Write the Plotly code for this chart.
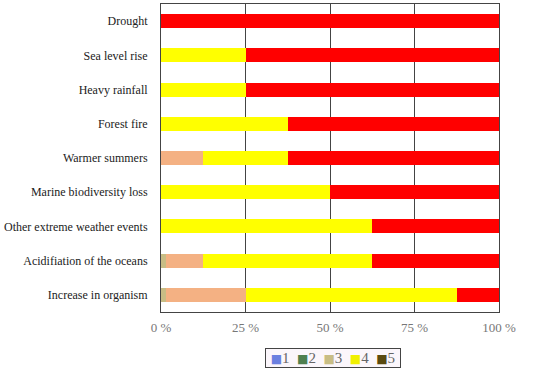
import plotly.graph_objects as go

categories = ["Drought", "Sea level rise", "Heavy rainfall", "Forest fire", "Warmer summers",
              "Marine biodiversity loss", "Other extreme weather events",
              "Acidifiation of the oceans", "Increase in organism"]
level_names = ["1", "2", "3", "4", "5"]
level1 = [0, 0, 0, 0, 0, 0, 0, 0, 0]
level2 = [0, 0, 0, 0, 0, 0, 0, 1.5, 1.5]
level3 = [0, 0, 0, 0, 12.5, 0, 0, 11, 23.5]
level4 = [0, 25, 25, 37.5, 25, 50, 62.5, 50, 62.5]
level5 = [100, 75, 75, 62.5, 62.5, 50, 37.5, 37.5, 12.5]
levels = [level1, level2, level3, level4, level5]
bar_colors = ["#6B7FE0", "#C8BD85", "#F4B183", "#FFFF00", "#FF0000"]
legend_colors = ["#6B7FE0", "#4F7F4F", "#C8BD85", "#F0F000", "#5A4A10"]
tick_vals = [0, 25, 50, 75, 100]
tick_text = ["0 %", "25 %", "50 %", "75 %", "100 %"]

SERIF = "Liberation Serif, Times New Roman, serif"

fig = go.Figure()
for name, vals, col in zip(level_names, levels, bar_colors):
    fig.add_trace(go.Bar(y=categories, x=vals, name=name, orientation="h",
                         marker=dict(color=col, line=dict(width=0)), showlegend=False))

legend_text = "&nbsp;&nbsp;".join(
    f"<span style='color:{c};font-family:DejaVu Sans;font-size:12px'>■</span>"
    f"<span style='color:#666'>{n}</span>"
    for n, c in zip(level_names, legend_colors))

fig.add_annotation(text="&nbsp;" + legend_text + "&nbsp;", xref="paper", yref="paper",
                   x=0.51, y=-0.118, xanchor="center", yanchor="top", showarrow=False,
                   font=dict(family=SERIF, size=15, color="#666"),
                   bordercolor="#444", borderwidth=1, borderpad=1, bgcolor="#FBF6FB")

fig.update_layout(
    barmode="stack", bargap=0.59,
    width=550, height=375,
    margin=dict(l=161, r=51, t=4, b=63, autoexpand=False),
    plot_bgcolor="white", paper_bgcolor="white",
    font=dict(family=SERIF, size=12, color="#222"),
    xaxis=dict(range=[0, 100], tickvals=tick_vals, ticktext=tick_text,
               showgrid=True, gridcolor="#444", gridwidth=1,
               showline=True, linecolor="#444", mirror=True, zeroline=False,
               tickfont=dict(family=SERIF, size=13, color="#777"),
               ticks="", ticklabelstandoff=3, automargin=False),
    yaxis=dict(categoryorder="array", categoryarray=categories, autorange="reversed",
               showline=True, linecolor="#444", mirror=True, showgrid=False,
               ticks="", ticklabelstandoff=10, automargin=False,
               tickfont=dict(family=SERIF, size=12, color="#222")),
)

fig.write_html("out.html", config={"displayModeBar": False},
               post_script="document.body.style.margin='0';")
